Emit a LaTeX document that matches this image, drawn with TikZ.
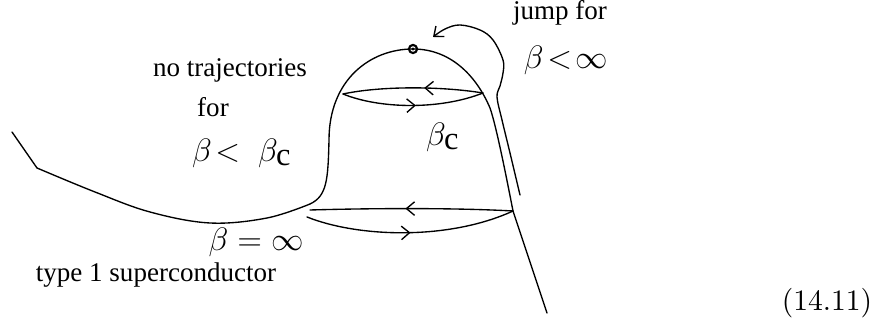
\documentclass[tikz,border=0pt]{standalone}
\usepackage{fontspec}
\setmainfont{Liberation Serif}
\usetikzlibrary{arrows.meta, decorations.markings}

\tikzset{
    curve/.style={line width=0.5pt},
    barb/.tip={Straight Barb[length=3pt, width=5pt]},
    flowright/.style={
        postaction={decorate},
        decoration={markings, mark=at position #1 with {\arrow{barb}}}
    },
    flowleft/.style={
        postaction={decorate},
        decoration={markings, mark=at position #1 with {\arrowreversed{barb}}}
    },
    txt/.style={font=\fontsize{10}{12}\selectfont, inner sep=0pt},
    mth/.style={font=\fontsize{12}{14}\selectfont, inner sep=0pt}
}

\begin{document}
\begin{tikzpicture}[
        x=0.37pt,
        y=-0.37pt,
        line join=round,
        line cap=round
    ]

        \useasboundingbox (0,0) rectangle (879,329);

        % =================================
        % DIEM CUA DUONG CONG
        % =================================
        \coordinate (L1) at (12,132);
        \coordinate (L2) at (37,168);
        \coordinate (Lb) at (210,223);
        \coordinate (Lr) at (310,204);
        \coordinate (Nk) at (329,140);
        \coordinate (T) at (413,49);
        \coordinate (Sh) at (490,108);

        % dau mut cac vong lap
        \coordinate (P1) at (343,94);
        \coordinate (P2) at (483,93);
        \coordinate (Q1) at (310,210);
        \coordinate (Q0) at (307,217);
        \coordinate (Q2) at (513,211);
        \coordinate (E) at (547,313);

        % mui ten nhay
        \coordinate (J1) at (520,195);
        \coordinate (J2) at (433,37);


        % =================================
        % DUONG CONG CHINH
        % =================================

        % doan thang ben trai
        \draw[curve] (L1) -- (L2);

        % day
        \draw[curve] plot[smooth, tension=0.6] coordinates {
            (L2) (95,192) (150,212) (Lb) (267,218) (Lr)
        };

        % co va chuong
        \draw[curve] (Lr)
            .. controls (327,196) and (328,180) .. (Nk)
            .. controls (329,80) and (370,49) .. (T)
            .. controls (450,49) and (476,75) .. (Sh)
            .. controls (496,125) and (506,175) .. (Q2)
            -- (E);


        % =================================
        % VONG LAP
        % =================================

        % vong tren (beta_c)
        \draw[curve, flowleft=0.58]
            (P1) .. controls (380,86) and (440,86) .. (P2);
        \draw[curve, flowright=0.52]
            (P1) .. controls (380,109) and (440,110) .. (P2);

        % vong duoi (beta = oo)
        \draw[curve, flowleft=0.47]
            (Q1) .. controls (380,208) and (460,208) .. (Q2);
        \draw[curve, flowright=0.5]
            (Q0) .. controls (360,238) and (450,240) .. (Q2);


        % =================================
        % BUOC NHAY
        % =================================

        \draw[curve, -barb] plot[smooth, tension=0.6] coordinates {
            (J1) (510,153) (502,120) (497,97) (500,86) (503,73)
            (503,60) (493,40) (480,30) (460,25) (445,29) (J2)
        };

        % diem tren dinh
        \draw[line width=0.8pt] (T) circle[radius=1.5pt];
        \fill (T) circle[radius=0.6pt];


        % =================================
        % NHAN
        % =================================

        \node[txt] (notraj) at (230,70) {no trajectories};
        \node[txt] (nofor) at (213,107) {for};
        \node[mth] (lessc) at (242,153) {$\beta\!<\;\beta_{\mbox{c}}$};
        \node[mth] (betac) at (443,137) {$\beta_{\mbox{c}}$};
        \node[mth] (betainf) at (256,242) {$\beta=\infty$};
        \node[txt] (type1) at (156,275) {type 1 superconductor};
        \node[txt] (jump) at (560,13) {jump for};
        \node[mth] (lessinf) at (566,60) {$\beta\!<\!\infty$};
        \node[font=\fontsize{11}{13}\selectfont, inner sep=0pt] (eqno)
            at (827,303) {$(14.11)$};

    \end{tikzpicture}
\end{document}
